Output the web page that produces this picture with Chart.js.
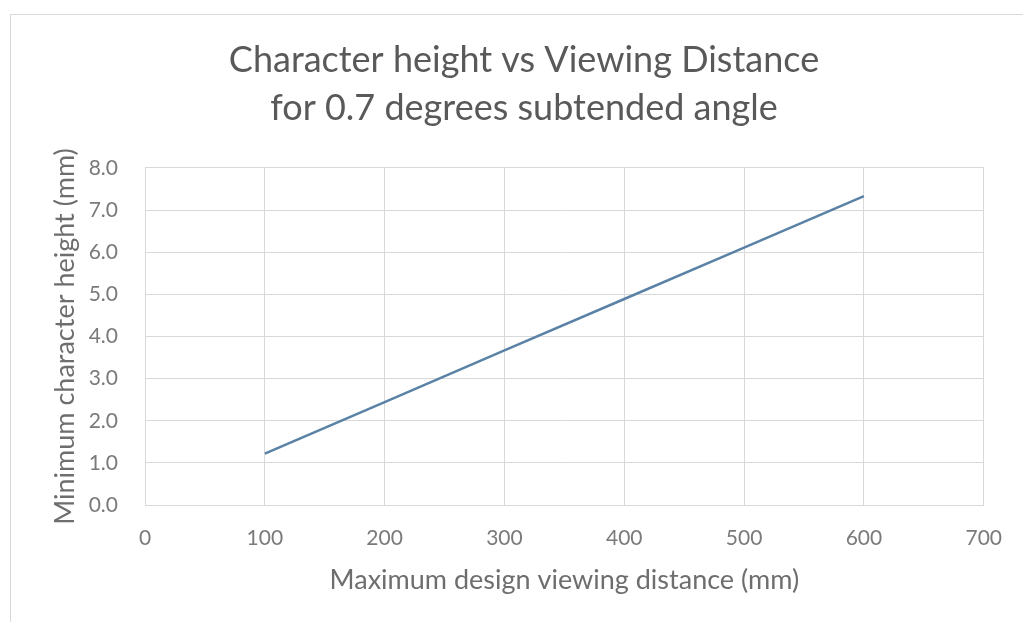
<!DOCTYPE html>
<html>
<head>
<meta charset="utf-8">
<script src="https://cdn.jsdelivr.net/npm/chart.js@4.4.0/dist/chart.umd.min.js"></script>
<style>
    html, body {margin: 0; padding: 0; background: #fff; overflow: hidden;}
    #frame {
        position: absolute; left: 10px; top: 14px; width: 1030px; height: 640px;
        border-left: 1px solid #d9d9d9; border-top: 1px solid #d9d9d9;
    }
    #chart {position: absolute; left: 0; top: 0;}
</style>
</head>
<body>
<div id="frame"></div>
<canvas id="chart" width="1023" height="622"></canvas>
<script>
// viewing distance (mm) and minimum character height (mm)
const distances = [100, 200, 300, 400, 500, 600];
const heights = [1.22, 2.44, 3.67, 4.89, 6.11, 7.33];

const TITLE_LINES = ["Character height vs Viewing Distance", "for 0.7 degrees subtended angle"];
const X_TITLE = "Maximum design viewing distance (mm)";
const Y_TITLE = "Minimum character height (mm)";

const FONT = "Lato, 'Open Sans', sans-serif";
const GRID = "#d9d9d9";

// the source chart's frame runs past the right edge, so its title sits a bit right of centre
const shiftTitle = {
    id: "shiftTitle",
    afterLayout(chart) {
        const t = chart.titleBlock;
        if (t) {
            t.left += 25;
            t.right += 25;
        }
    },
};

new Chart(document.getElementById("chart"), {
    type: "line",
    data: {
        datasets: [
            {
                data: distances.map((d, i) => ({x: d, y: heights[i]})),
                borderColor: "#5a82a6",
                borderWidth: 2.5,
                pointRadius: 0,
                tension: 0,
                fill: false,
            },
        ],
    },
    options: {
        responsive: false,
        animation: false,
        devicePixelRatio: 1,
        layout: {
            padding: {top: 0, bottom: 0, left: 10, right: 35},
        },
        plugins: {
            legend: {display: false},
            tooltip: {enabled: false},
            title: {
                display: true,
                text: TITLE_LINES,
                color: "#595959",
                font: {family: FONT, size: 36, weight: "normal", lineHeight: 1.333},
                padding: {top: 36, bottom: 36},
            },
        },
        scales: {
            x: {
                type: "linear",
                min: 0,
                max: 700,
                ticks: {
                    stepSize: 100,
                    color: "#7a7a7a",
                    padding: 21,
                    font: {family: FONT, size: 21},
                },
                grid: {color: GRID, drawTicks: false},
                border: {color: GRID},
                title: {
                    display: true,
                    text: X_TITLE,
                    color: "#6e6e6e",
                    font: {family: FONT, size: 27},
                    padding: {bottom: 26},
                },
                afterFit(scale) {
                    scale.height = 117;
                },
            },
            y: {
                min: 0,
                max: 8,
                ticks: {
                    stepSize: 1,
                    color: "#7a7a7a",
                    padding: 27,
                    font: {family: FONT, size: 21},
                    callback: (v) => v.toFixed(1),
                },
                grid: {color: GRID, drawTicks: false},
                border: {color: GRID},
                title: {
                    display: true,
                    text: Y_TITLE,
                    color: "#6e6e6e",
                    font: {family: FONT, size: 27},
                    padding: {top: 39},
                },
                afterFit(scale) {
                    scale.width = 135;
                },
            },
        },
    },
    plugins: [shiftTitle],
});
</script>
</body>
</html>
